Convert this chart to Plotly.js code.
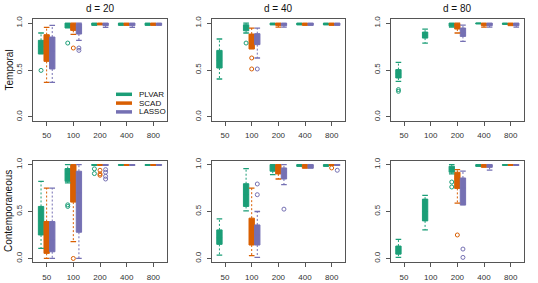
<!DOCTYPE html>
<html>
<head>
<meta charset="utf-8">
<script src="https://cdn.plot.ly/plotly-3.0.1.min.js"></script>
<style>html,body{margin:0;padding:0;background:#fff;}#chart{width:538px;height:283px;}</style>
</head>
<body>
<div id="chart"></div>
<script>
// ---------------- DATA ----------------
const sampleSizes = ['50', '100', '200', '400', '800'];
const methods = ['PLVAR', 'SCAD', 'LASSO'];
const dimLabels = ['d = 20', 'd = 40', 'd = 80'];
const rowLabels = ['Temporal', 'Contemporaneous'];
// each entry: [lowerWhisker, q1, median, q3, upperWhisker] per sample size (null = not shown)

// Temporal, d = 20
const temporal_d20_PLVAR = [[0.67, 0.67, 0.75, 0.816, 0.894], [0.947, 0.947, 0.98, 1.0, 1.0], [0.975, 0.975, 1, 1, 1], [0.975, 0.975, 1, 1, 1], [0.975, 0.975, 1, 1, 1]];
const temporal_d20_SCAD  = [[0.369, 0.592, 0.80, 0.876, 0.954], [0.879, 0.922, 0.97, 0.993, 1.0], [0.98, 0.98, 1, 1, 1], [0.975, 0.975, 1, 1, 1], [0.975, 0.975, 1, 1, 1]];
const temporal_d20_LASSO = [[0.369, 0.511, 0.70, 0.851, 0.975], [0.816, 0.883, 0.95, 0.993, 1.0], [0.954, 0.972, 1, 1, 1], [0.954, 0.972, 1, 1, 1], [0.975, 0.975, 1, 1, 1]];
const temporal_d20_PLVAR_out = [[0.496], [0.787], [], [], []];
const temporal_d20_SCAD_out  = [[], [0.734], [], [], []];
const temporal_d20_LASSO_out = [[], [0.734, 0.709], [], [], []];

// Temporal, d = 40
const temporal_d40_PLVAR = [[0.404, 0.521, 0.60, 0.709, 0.830], [0.894, 0.918, 0.96, 0.982, 1.0], [0.98, 0.98, 1, 1, 1], [0.98, 0.98, 1, 1, 1], [0.98, 0.98, 1, 1, 1]];
const temporal_d40_SCAD  = [null, [0.723, 0.723, 0.83, 0.883, 0.947], [0.957, 0.975, 0.99, 1, 1], [0.975, 0.975, 1, 1, 1], [0.975, 0.975, 1, 1, 1]];
const temporal_d40_LASSO = [null, [0.628, 0.77, 0.85, 0.887, 0.947], [0.957, 0.972, 0.99, 1, 1], [0.975, 0.975, 1, 1, 1], [0.975, 0.975, 1, 1, 1]];
const temporal_d40_PLVAR_out = [[], [0.787], [], [], []];
const temporal_d40_SCAD_out  = [[], [0.628, 0.511], [], [], []];
const temporal_d40_LASSO_out = [[], [0.511], [], [], []];

// Temporal, d = 80
const temporal_d80_PLVAR = [[0.379, 0.415, 0.46, 0.504, 0.582], [0.787, 0.840, 0.87, 0.904, 0.936], [0.957, 0.965, 0.99, 1.0, 1.0], [0.99, 0.99, 1, 1, 1], [0.985, 0.985, 1, 1, 1]];
const temporal_d80_SCAD  = [null, null, [0.894, 0.936, 0.97, 0.993, 1.0], [0.957, 0.972, 0.99, 1, 1], [0.972, 0.972, 0.99, 1, 1]];
const temporal_d80_LASSO = [null, null, [0.805, 0.858, 0.90, 0.947, 0.979], [0.957, 0.972, 0.99, 1, 1], [0.957, 0.972, 0.99, 1, 1]];
const temporal_d80_PLVAR_out = [[0.291, 0.273], [], [], [], []];
const temporal_d80_SCAD_out  = [[], [], [], [], []];
const temporal_d80_LASSO_out = [[], [], [], [], []];

// Contemporaneous, d = 20
const contemp_d20_PLVAR = [[0.107, 0.25, 0.40, 0.554, 0.821], [0.804, 0.821, 0.90, 0.957, 1.0], [0.99, 0.99, 1, 1, 1], [0.99, 0.99, 1, 1, 1], [0.99, 0.99, 1, 1, 1]];
const contemp_d20_SCAD  = [[0.0, 0.054, 0.20, 0.393, 0.75], [0.179, 0.60, 0.85, 1.0, 1.0], [0.99, 0.99, 1, 1, 1], [0.99, 0.99, 1, 1, 1], [0.99, 0.99, 1, 1, 1]];
const contemp_d20_LASSO = [[0.0, 0.071, 0.20, 0.393, 0.75], [0.0, 0.279, 0.70, 0.929, 1.0], [0.99, 0.99, 1, 1, 1], [0.99, 0.99, 1, 1, 1], [0.99, 0.99, 1, 1, 1]];
const contemp_d20_PLVAR_out = [[], [0.571, 0.554], [0.954, 0.904], [], []];
const contemp_d20_SCAD_out  = [[], [0.0], [0.939, 0.90, 0.886], [], []];
const contemp_d20_LASSO_out = [[], [], [0.946, 0.918, 0.875, 0.846], [], []];

// Contemporaneous, d = 40
const contemp_d40_PLVAR = [[0.036, 0.15, 0.22, 0.304, 0.421], [0.507, 0.554, 0.68, 0.796, 0.957], [0.893, 0.929, 0.98, 1.0, 1.0], [0.98, 0.98, 1, 1, 1], [0.98, 0.98, 1, 1, 1]];
const contemp_d40_SCAD  = [null, [0.029, 0.143, 0.30, 0.429, 0.75], [0.846, 0.90, 0.96, 1.0, 1.0], [0.96, 0.96, 0.99, 1, 1], [0.99, 0.99, 1, 1, 1]];
const contemp_d40_LASSO = [null, [0.011, 0.143, 0.25, 0.357, 0.50], [0.786, 0.846, 0.92, 0.964, 1.0], [0.96, 0.96, 0.99, 1, 1], [0.99, 0.99, 1, 1, 1]];
const contemp_d40_PLVAR_out = [[], [], [], [], []];
const contemp_d40_SCAD_out  = [[], [], [], [], [0.964]];
const contemp_d40_LASSO_out = [[], [0.793, 0.679], [0.525], [], [0.939]];

// Contemporaneous, d = 80
const contemp_d80_PLVAR = [[0.011, 0.046, 0.09, 0.132, 0.204], [0.304, 0.40, 0.50, 0.632, 0.671], [0.90, 0.918, 0.95, 0.982, 1.0], [0.98, 0.98, 1, 1, 1], [0.99, 0.99, 1, 1, 1]];
const contemp_d80_SCAD  = [null, null, [0.589, 0.746, 0.85, 0.918, 0.946], [0.97, 0.97, 0.99, 1, 1], [0.99, 0.99, 1, 1, 1]];
const contemp_d80_LASSO = [null, null, [0.568, 0.568, 0.75, 0.857, 0.929], [0.94, 0.97, 0.99, 1, 1], [0.99, 0.99, 1, 1, 1]];
const contemp_d80_PLVAR_out = [[], [], [0.814, 0.761], [], []];
const contemp_d80_SCAD_out  = [[], [], [0.25], [], []];
const contemp_d80_LASSO_out = [[], [], [0.10, 0.011], [], []];

// ---------------- STYLE ----------------
const colors = {PLVAR: '#1B9E77', SCAD: '#D95F02', LASSO: '#7570B3'};
const offsets = {PLVAR: -0.21, SCAD: 0, LASSO: 0.21};
const FONT = '"Liberation Sans", Arial, sans-serif';
const W = 538, H = 283;
const xDom = [[33.3, 166.7], [211.7, 345], [390.7, 524]];
const yDom = [[19.3, 120.7], [160.8, 262.2]]; // top, bottom in px from top

const panels = [
  [{PLVAR: [temporal_d20_PLVAR, temporal_d20_PLVAR_out], SCAD: [temporal_d20_SCAD, temporal_d20_SCAD_out], LASSO: [temporal_d20_LASSO, temporal_d20_LASSO_out]},
   {PLVAR: [temporal_d40_PLVAR, temporal_d40_PLVAR_out], SCAD: [temporal_d40_SCAD, temporal_d40_SCAD_out], LASSO: [temporal_d40_LASSO, temporal_d40_LASSO_out]},
   {PLVAR: [temporal_d80_PLVAR, temporal_d80_PLVAR_out], SCAD: [temporal_d80_SCAD, temporal_d80_SCAD_out], LASSO: [temporal_d80_LASSO, temporal_d80_LASSO_out]}],
  [{PLVAR: [contemp_d20_PLVAR, contemp_d20_PLVAR_out], SCAD: [contemp_d20_SCAD, contemp_d20_SCAD_out], LASSO: [contemp_d20_LASSO, contemp_d20_LASSO_out]},
   {PLVAR: [contemp_d40_PLVAR, contemp_d40_PLVAR_out], SCAD: [contemp_d40_SCAD, contemp_d40_SCAD_out], LASSO: [contemp_d40_LASSO, contemp_d40_LASSO_out]},
   {PLVAR: [contemp_d80_PLVAR, contemp_d80_PLVAR_out], SCAD: [contemp_d80_SCAD, contemp_d80_SCAD_out], LASSO: [contemp_d80_LASSO, contemp_d80_LASSO_out]}]
];

const traces = [];
const layout = {
  width: W, height: H,
  margin: {l: 0, r: 0, t: 0, b: 0},
  paper_bgcolor: '#fff', plot_bgcolor: '#fff',
  showlegend: false,
  font: {family: FONT, size: 8, color: '#333'},
  annotations: [], shapes: []
};

for (let r = 0; r < 2; r++) {
  for (let c = 0; c < 3; c++) {
    const k = r * 3 + c + 1;
    const xa = 'x' + (k === 1 ? '' : k), ya = 'y' + (k === 1 ? '' : k);
    const xk = 'xaxis' + (k === 1 ? '' : k), yk = 'yaxis' + (k === 1 ? '' : k);
    layout[xk] = {
      domain: [xDom[c][0] / W, xDom[c][1] / W], anchor: ya,
      range: [0.5, 5.5], tickmode: 'array', tickvals: [1, 2, 3, 4, 5], ticktext: sampleSizes,
      ticks: 'outside', ticklen: 4, tickcolor: '#555', tickwidth: 1, ticklabelstandoff: 3,
      showline: true, mirror: true, linecolor: '#555', linewidth: 1,
      showgrid: false, zeroline: false, fixedrange: true,
      tickfont: {family: FONT, size: 8, color: '#333'}
    };
    layout[yk] = {
      domain: [1 - yDom[r][1] / H, 1 - yDom[r][0] / H], anchor: xa,
      range: [-0.04, 1.04], tickmode: 'array', tickvals: [0, 0.5, 1], ticktext: ['0.0', '0.5', '1.0'],
      tickangle: -90, ticks: 'outside', ticklen: 4, tickcolor: '#555', tickwidth: 1, ticklabelstandoff: 3,
      showline: true, mirror: true, linecolor: '#555', linewidth: 1,
      showgrid: false, zeroline: false, fixedrange: true,
      tickfont: {family: FONT, size: 8, color: '#333'}
    };
    const panel = panels[r][c];
    methods.forEach(m => {
      const [stats, outs] = panel[m];
      const col = colors[m];
      const xs = [], q1 = [], med = [], q3 = [];
      const wx = [], wy = [], capx = [], capy = [], ox = [], oy = [];
      stats.forEach((s, i) => {
        const xp = i + 1 + offsets[m];
        if (s) {
          xs.push(xp); q1.push(s[1]); med.push(s[2]); q3.push(s[3]);
          if (s[4] > s[3]) { wx.push(xp, xp, null); wy.push(s[3], s[4], null); capx.push(xp); capy.push(s[4]); }
          if (s[0] < s[1]) { wx.push(xp, xp, null); wy.push(s[1], s[0], null); capx.push(xp); capy.push(s[0]); }
        }
        outs[i].forEach(v => { ox.push(xp); oy.push(v); });
      });
      traces.push({type: 'scatter', mode: 'lines', x: wx, y: wy, xaxis: xa, yaxis: ya,
        line: {color: col, width: 1, dash: '2px,2px'}, hoverinfo: 'skip', showlegend: false});
      traces.push({type: 'scatter', mode: 'markers', x: capx, y: capy, xaxis: xa, yaxis: ya,
        marker: {symbol: 'line-ew-open', size: 4, color: col, line: {color: col, width: 1.3}}, hoverinfo: 'skip', showlegend: false});
      traces.push({type: 'box', x: xs, q1: q1, median: med, q3: q3, lowerfence: q1, upperfence: q3,
        width: 0.2, whiskerwidth: 0, xaxis: xa, yaxis: ya, fillcolor: col,
        line: {color: col, width: 1}, boxpoints: false, hoverinfo: 'skip', showlegend: false, name: m});
      traces.push({type: 'scatter', mode: 'markers', x: ox, y: oy, xaxis: xa, yaxis: ya,
        marker: {symbol: 'circle-open', size: 4, color: col, line: {color: col, width: 1}}, hoverinfo: 'skip', showlegend: false});
    });
  }
}

// column titles
dimLabels.forEach((t, c) => {
  layout.annotations.push({text: t, xref: 'paper', yref: 'paper', x: (xDom[c][0] + xDom[c][1]) / 2 / W,
    y: 1 - 8.5 / H, xanchor: 'center', yanchor: 'middle', showarrow: false, font: {family: FONT, size: 10, color: '#111'}});
});
// row titles
rowLabels.forEach((t, r) => {
  layout.annotations.push({text: t, xref: 'paper', yref: 'paper', x: 8.5 / W,
    y: 1 - (yDom[r][0] + yDom[r][1]) / 2 / H, xanchor: 'center', yanchor: 'middle', textangle: -90,
    showarrow: false, font: {family: FONT, size: 10, color: '#111'}});
});
// legend (top-left panel)
methods.forEach((m, j) => {
  const yp = 1 - (94.3 + j * 8.8) / H;
  layout.shapes.push({type: 'line', xref: 'paper', yref: 'paper', x0: 116 / W, x1: 132 / W, y0: yp, y1: yp,
    line: {color: colors[m], width: 3.5}});
  layout.annotations.push({text: m, xref: 'paper', yref: 'paper', x: 137 / W, y: yp, xanchor: 'left', yanchor: 'middle',
    showarrow: false, font: {family: FONT, size: 8, color: '#111'}});
});

Plotly.newPlot('chart', traces, layout, {displayModeBar: false, staticPlot: true});
</script>
</body>
</html>
